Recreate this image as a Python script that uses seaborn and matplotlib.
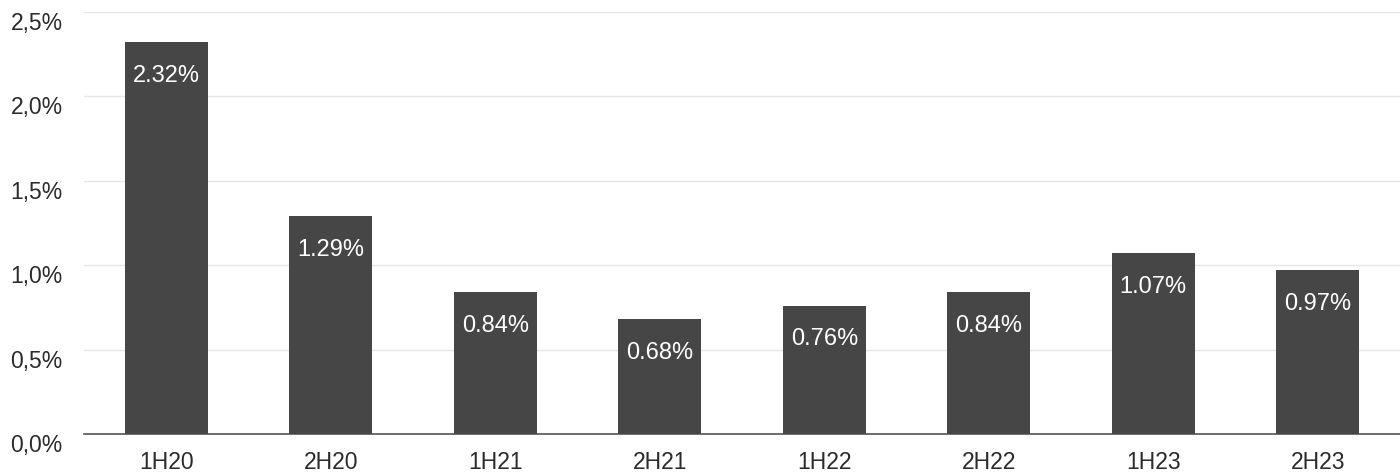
import matplotlib
matplotlib.use("Agg")
import matplotlib.pyplot as plt
import seaborn as sns
import pandas as pd

categories = ["1H20", "2H20", "1H21", "2H21", "1H22", "2H22", "1H23", "2H23"]
values = [2.32, 1.29, 0.84, 0.68, 0.76, 0.84, 1.07, 0.97]
value_labels = ["2.32%", "1.29%", "0.84%", "0.68%", "0.76%", "0.84%", "1.07%", "0.97%"]
y_ticks = [0.0, 0.5, 1.0, 1.5, 2.0, 2.5]
y_tick_labels = ["0,0%", "0,5%", "1,0%", "1,5%", "2,0%", "2,5%"]

sns.set_style("white")
plt.rcParams["font.family"] = ["Liberation Sans", "DejaVu Sans"]

df = pd.DataFrame({"period": categories, "value": values})

fig = plt.figure(figsize=(14, 4.72), dpi=100)
ax = fig.add_axes([0.06, 0.0805, 0.94, 0.8941])

sns.barplot(data=df, x="period", y="value", color="#464646", saturation=1,
            width=0.505, ax=ax, zorder=3, linewidth=0, edgecolor="none")

ax.set_ylim(0, 2.5)
ax.set_xlim(-0.5, len(categories) - 0.5)
ax.set_yticks(y_ticks)
ax.set_yticklabels(y_tick_labels)
ax.yaxis.grid(True, color="#e6e6e6", linewidth=1, zorder=0)
ax.set_axisbelow(True)
for s in ["top", "right", "left"]:
    ax.spines[s].set_visible(False)
ax.spines["bottom"].set_color("#555555")
ax.spines["bottom"].set_linewidth(1.2)
ax.set_xlabel("")
ax.set_ylabel("")
ax.tick_params(axis="both", length=0, labelsize=16.5, colors="#2b2b2b")
ax.tick_params(axis="x", pad=12.5)
ax.tick_params(axis="y", pad=53)
for lab in ax.get_yticklabels():
    lab.set_horizontalalignment("left")
    lab.set_verticalalignment("top")

for container in ax.containers:
    ax.bar_label(container, labels=value_labels, label_type="edge", padding=-32,
                 color="white", fontsize=17)

fig.savefig("out.png", dpi=100)
